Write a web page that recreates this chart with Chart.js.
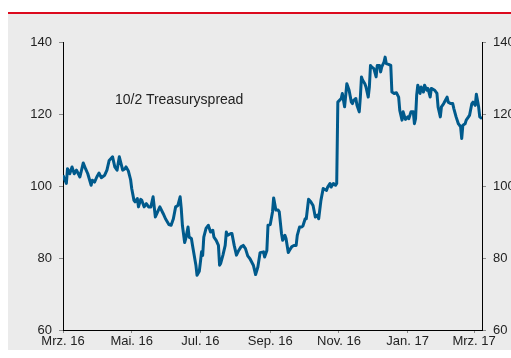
<!DOCTYPE html>
<html>
<head>
<meta charset="utf-8">
<script src="https://cdn.jsdelivr.net/npm/chart.js@4.4.1/dist/chart.umd.min.js"></script>
<style>
	body {
		margin: 0;
		width: 511px;
		height: 358px;
		overflow: hidden;
		position: relative;
		background: #ffffff;
		font-family: "Liberation Sans", Arial, sans-serif;
	}
	.red-line {
		position: absolute;
		left: 8px;
		top: 12px;
		width: 503px;
		height: 2px;
		background: #dc0a1e;
	}
	.panel {
		position: absolute;
		left: 8px;
		top: 14px;
		width: 503px;
		height: 336px;
		background: #ebebeb;
	}
	#spread-chart {
		position: absolute;
		left: 0;
		top: 0;
	}
	.series-label {
		position: absolute;
		left: 115px;
		top: 92px;
		font-size: 14px;
		line-height: 14px;
		color: #222222;
		white-space: nowrap;
	}
</style>
</head>
<body>
<div class="red-line"></div>
<div class="panel">
	<canvas id="spread-chart" width="503" height="336"></canvas>
</div>
<div class="series-label">10/2 Treasuryspread</div>

<script>
// days since 1 Mar 2016
const days = [
	0, 3, 4, 6, 8, 10, 12, 15, 18, 20, 22, 25, 26, 28, 30, 32, 34, 37, 39, 41,
	44, 46, 48, 50, 53, 55, 56, 58, 60, 61, 63, 64, 66, 67, 69, 70, 72, 74, 76, 78,
	80, 82, 84, 86, 89, 91, 94, 96, 98, 100, 102, 104, 105, 106, 108, 109, 111, 112, 114, 115,
	117, 118, 119, 121, 122, 123, 124, 125, 127, 129, 131, 133, 134, 136, 138, 139, 140, 142, 144, 145,
	146, 149, 150, 152, 154, 156, 158, 160, 162, 164, 166, 169, 171, 173, 175, 178, 179, 181, 182, 184,
	186, 187, 189, 191, 192, 194, 195, 197, 198, 200, 201, 203, 205, 207, 208, 210, 212, 213, 215, 216,
	218, 220, 222, 224, 226, 227, 229, 231, 234, 235, 237, 238, 240, 242, 243, 244, 247, 248, 250, 251,
	252, 254, 256, 257, 258, 260, 261, 263, 264, 265, 266, 268, 269, 271, 272, 273, 274, 276, 278, 279,
	281, 282, 283, 285, 286, 287, 289, 291, 292, 294, 296, 298, 299, 301, 302, 304, 306, 307, 309, 311,
	312, 313, 314, 315, 317, 318, 320, 321, 323, 324, 326, 327, 330, 332, 333, 335, 336, 338, 341, 342,
	344, 346, 347, 349, 351, 352, 353, 354, 355, 357, 358, 360, 361, 363, 364, 366, 367, 369, 370, 372,
];

const spread = [
	103, 100.7, 104.8, 103.4, 105.3, 103.4, 104.4, 102.5, 106.4, 104.8, 103.4, 100.2, 101.6, 101.1, 102.5, 103.6, 102.3, 103, 104.4, 107.1,
	108.1, 105.3, 104.4, 108.1, 104.4, 104.8, 105.3, 104.2, 101.8, 99.3, 96, 95.6, 96.5, 94.2, 96.3, 96, 94.2, 95.1, 94.2, 94.2,
	97, 91.4, 92.8, 94.2, 92.3, 90.9, 89.3, 89.1, 90.9, 94.2, 94.6, 97, 93.7, 89.1, 84.3, 85.4, 88.6, 85.8, 85.4, 83.5,
	79.8, 78, 75.2, 76.3, 78.9, 81.7, 80.7, 85.8, 88.2, 89.1, 87.2, 87.7, 85.8, 84.9, 83.5, 78, 78.5, 80.8, 83.5, 87.2,
	86.3, 86.8, 86.8, 83.5, 80.8, 82.1, 83.1, 83.5, 82.6, 80.6, 79.8, 78, 75.4, 77.5, 81.5, 81.7, 80.3, 82.1, 89.1, 89.3,
	92.8, 96.7, 93.3, 93.3, 92.8, 86.8, 84.9, 86.3, 85.4, 81.5, 82.1, 83.1, 83.5, 83.5, 86.3, 88.6, 88.6, 88.9, 90.9, 90.9,
	96.3, 95.6, 94.6, 91.4, 91.9, 90.9, 96, 99.3, 98.8, 99.7, 100.7, 99.7, 100.7, 100.2, 100.7, 123.3, 124.3, 125.7, 122, 125.2,
	128.4, 126.6, 123.3, 122.9, 123.8, 124.3, 122.4, 120.6, 124.7, 130.3, 129.4, 128.4, 127.5, 124.7, 127.5, 133.5, 133.1, 132.6, 130.3, 133.5,
	133.5, 131.7, 133.1, 134.4, 135.8, 134, 133.8, 133.5, 126.1, 125.7, 125.9, 124.7, 121, 118.3, 120.6, 118.5, 119.2, 118.7, 120.6, 120.6,
	117.3, 118.7, 125.2, 128, 125.7, 127.5, 126.1, 128, 126.6, 127.1, 124.7, 127.1, 126.6, 125.7, 122, 119.2, 122, 122.9, 124.7, 123.3,
	122.9, 122.9, 121.5, 119.2, 117.3, 116.9, 116.4, 113.2, 116.9, 117.3, 118.3, 119.2, 119.7, 122.9, 123.3, 122.4, 125.5, 122, 119.2, 118.7,
];

const tickDays = [0, 61, 122, 184, 245, 306, 365];
const tickLabels = ["Mrz. 16", "Mai. 16", "Jul. 16", "Sep. 16", "Nov. 16", "Jan. 17", "Mrz. 17"];

Chart.defaults.font.family = '"Liberation Sans", Arial, sans-serif';
Chart.defaults.font.size = 13;
Chart.defaults.color = "#222222";

const points = days.map((d, i) => ({ x: d, y: spread[i] }));

function valueAxis(position, width) {
	return {
		position: position,
		min: 60,
		max: 140,
		afterFit: (scale) => {
			scale.width = width;
		},
		grid: {
			drawOnChartArea: false,
			color: "#8c8c8c",
			tickLength: 4,
		},
		border: {
			color: "#000000",
			width: 1,
		},
		ticks: {
			stepSize: 20,
			padding: 7,
		},
	};
}

const ctx = document.getElementById("spread-chart").getContext("2d");

new Chart(ctx, {
	type: "line",
	data: {
		datasets: [
			{
				label: "10/2 Treasuryspread",
				data: points,
				borderColor: "#005a8c",
				borderWidth: 3,
				pointRadius: 0,
				tension: 0,
				borderJoinStyle: "round",
			},
		],
	},
	options: {
		responsive: false,
		animation: false,
		layout: {
			padding: { top: 28, left: 0, right: 0, bottom: 0 },
		},
		plugins: {
			legend: { display: false },
			tooltip: { enabled: false },
		},
		scales: {
			x: {
				type: "linear",
				min: 0,
				max: 372,
				afterBuildTicks: (scale) => {
					scale.ticks = tickDays.map((v) => ({ value: v }));
				},
				afterFit: (scale) => {
					scale.height = 20;
				},
				grid: {
					drawOnChartArea: false,
					color: "#8c8c8c",
					tickLength: 3,
				},
				border: {
					color: "#000000",
					width: 1,
				},
				ticks: {
					autoSkip: false,
					maxRotation: 0,
					padding: 1,
					callback: (value, index) => tickLabels[index],
				},
			},
			y: valueAxis("left", 55),
			y2: valueAxis("right", 29),
		},
	},
});
</script>
</body>
</html>
